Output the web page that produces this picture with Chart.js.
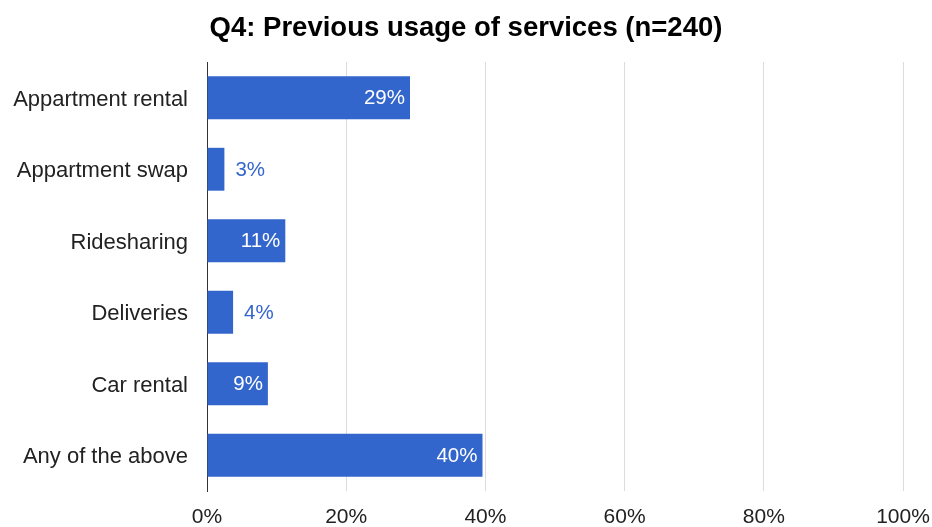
<!DOCTYPE html>
<html>
<head>
<meta charset="utf-8">
<title>Q4: Previous usage of services</title>
<script src="https://cdn.jsdelivr.net/npm/chart.js@4"></script>
<style>
  html, body { margin: 0; padding: 0; background: #ffffff; }
  #wrap { width: 932px; height: 527px; position: relative; }
</style>
</head>
<body>
<div id="wrap"><canvas id="chart"></canvas></div>
<script>
// Survey question and sample size
const titleText = 'Q4: Previous usage of services (n=240)';
const sampleSize = 240;

// Services asked about
const categories = [
  'Appartment rental',
  'Appartment swap',
  'Ridesharing',
  'Deliveries',
  'Car rental',
  'Any of the above'
];

// Respondents who had used each service
const respondents = [70, 6, 27, 9, 21, 95];

// Share of the sample, in percent
const shares = respondents.map(v => v / sampleSize * 100);

// X axis ticks
const xTicks = [0, 20, 40, 60, 80, 100];

const BAR_BLUE = '#3366cc';
const FONT = '"Liberation Sans", Arial, sans-serif';

// Value labels: inside the bar end in white when they fit, otherwise just past it in blue
const valueLabels = {
  id: 'valueLabels',
  afterDatasetsDraw(chart) {
    const ctx = chart.ctx;
    const meta = chart.getDatasetMeta(0);
    ctx.save();
    ctx.font = '20.5px ' + FONT;
    ctx.textBaseline = 'middle';
    meta.data.forEach((bar, i) => {
      const text = Math.round(shares[i]) + '%';
      const w = ctx.measureText(text).width;
      const barLen = bar.x - bar.base;
      if (w + 12 < barLen) {
        ctx.fillStyle = '#ffffff';
        ctx.textAlign = 'right';
        ctx.fillText(text, bar.x - 5, bar.y + 1);
      } else {
        ctx.fillStyle = BAR_BLUE;
        ctx.textAlign = 'left';
        ctx.fillText(text, bar.x + 11, bar.y + 1);
      }
    });
    ctx.restore();
  }
};

new Chart(document.getElementById('chart'), {
  type: 'bar',
  data: {
    labels: categories,
    datasets: [{
      data: shares,
      backgroundColor: BAR_BLUE,
      borderWidth: 0,
      barPercentage: 0.6,
      categoryPercentage: 1.0
    }]
  },
  options: {
    indexAxis: 'y',
    responsive: true,
    maintainAspectRatio: false,
    animation: false,
    layout: { padding: 0 },
    plugins: {
      legend: { display: false },
      tooltip: { enabled: false },
      title: {
        display: true,
        text: titleText,
        color: '#000000',
        font: { family: FONT, size: 27.5, weight: 'bold' },
        padding: { top: 12, bottom: 17 }
      }
    },
    scales: {
      x: {
        type: 'linear',
        min: 0,
        max: 100,
        afterBuildTicks(scale) {
          scale.ticks = xTicks.map(v => ({ value: v }));
        },
        afterFit(scale) {
          scale.height = 36;
          scale.paddingRight = 29;
        },
        grid: { color: '#dcdcdc', lineWidth: 1, drawTicks: false },
        border: { display: false },
        ticks: {
          padding: 14,
          color: '#222222',
          font: { family: FONT, size: 21 },
          callback: v => v + '%'
        }
      },
      y: {
        afterFit(scale) { scale.width = 207; },
        grid: { display: false, drawTicks: false },
        border: { display: true, color: '#333333', width: 1 },
        ticks: {
          padding: 19,
          labelOffset: 2,
          color: '#222222',
          font: { family: FONT, size: 22 }
        }
      }
    }
  },
  plugins: [valueLabels]
});
</script>
</body>
</html>
